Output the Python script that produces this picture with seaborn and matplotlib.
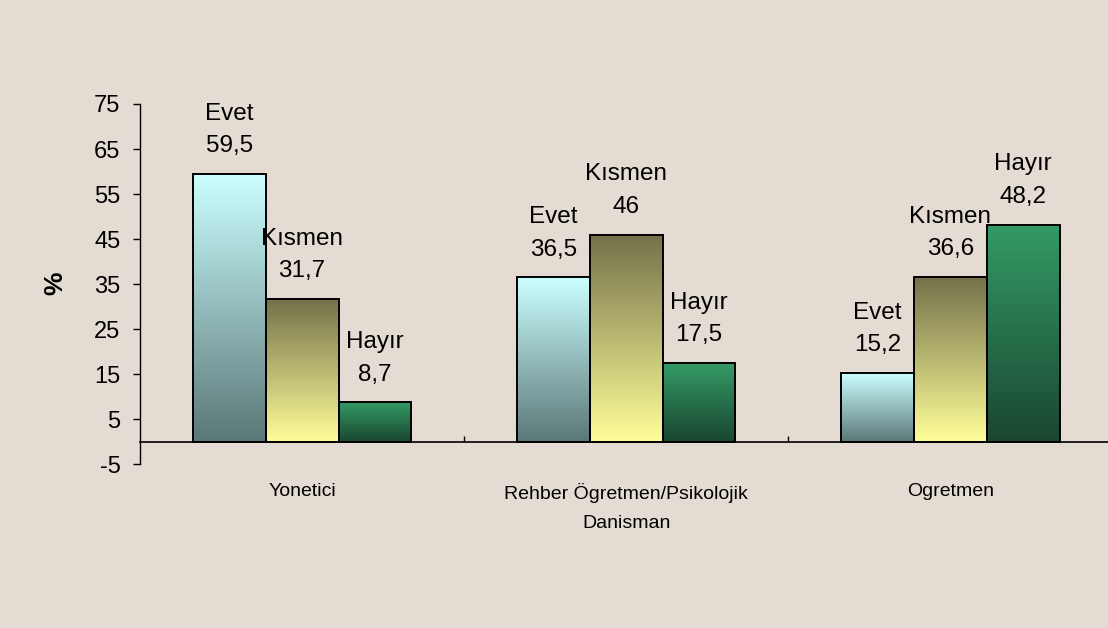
import numpy as np
import pandas as pd
import seaborn as sns
import matplotlib.pyplot as plt
from matplotlib.colors import LinearSegmentedColormap

# data
groups = ["Yonetici", "Rehber Ögretmen/Psikolojik\nDanisman", "Ogretmen"]
answers = ["Evet", "Kısmen", "Hayır"]
evet = [59.5, 36.5, 15.2]
kismen = [31.7, 46, 36.6]
hayir = [8.7, 17.5, 48.2]
yticks = [-5, 5, 15, 25, 35, 45, 55, 65, 75]

# gradient colours per answer (bottom, top)
grad = {
    "Evet": ("#5b7777", "#ccffff"),
    "Kısmen": ("#ffff99", "#74714a"),
    "Hayır": ("#1a4630", "#349a66"),
}

df = pd.DataFrame({
    "group": groups * 3,
    "answer": [a for a in answers for _ in groups],
    "value": evet + kismen + hayir,
})

sns.set_style("white")
plt.rcParams["font.family"] = ["Liberation Sans", "DejaVu Sans"]
plt.rcParams["axes.unicode_minus"] = False
plt.rcParams["text.color"] = "black"
plt.rcParams["xtick.color"] = "black"
plt.rcParams["ytick.color"] = "black"
plt.rcParams["axes.edgecolor"] = "black"

bg = "#e4dcd2"
fig = plt.figure(figsize=(11.08, 6.28), dpi=100, facecolor=bg)
ax = fig.add_axes([0.1264, 0.2611, 0.8774, 0.5733])
ax.set_facecolor("none")

sns.barplot(data=df, x="group", y="value", hue="answer", order=groups,
            hue_order=answers, width=0.675, gap=0, legend=False,
            edgecolor="black", linewidth=1.4, ax=ax)

# gradient fills, clipped to each bar
ramp = np.linspace(0, 1, 256).reshape(-1, 1)
for ans, cont in zip(answers, ax.containers):
    cmap = LinearSegmentedColormap.from_list(ans, list(grad[ans]))
    for bar, val in zip(cont, df[df.answer == ans]["value"]):
        x0, y0 = bar.get_x(), bar.get_y()
        w, h = bar.get_width(), bar.get_height()
        im = ax.imshow(ramp, cmap=cmap, origin="lower", aspect="auto",
                       extent=[x0, x0 + w, y0, y0 + h], zorder=bar.get_zorder() - 0.1)
        im.set_clip_path(bar)
        bar.set_facecolor("none")
        lab = f"{val:g}".replace(".", ",")
        ax.annotate(f"{ans}\n{lab}", (x0 + w / 2, y0 + h), xytext=(0, 12),
                    textcoords="offset points", ha="center", va="bottom",
                    fontsize=17.5, linespacing=1.62, zorder=5)

ax.set_xlim(-0.5, 2.5)
ax.set_ylim(-5, 75)
ax.set_yticks(yticks)
ax.tick_params(axis="y", labelsize=17, length=5, width=1, pad=9, left=True)
ax.set_ylabel("")
ax.set_xlabel("")

# category axis sits on the zero line
ax.spines["bottom"].set_position(("data", 0))
ax.spines["bottom"].set_linewidth(1.2)
ax.spines["left"].set_linewidth(1)
ax.spines["top"].set_visible(False)
ax.spines["right"].set_visible(False)
ax.set_xticks([0.5, 1.5], minor=True)
ax.tick_params(axis="x", which="both", direction="in", length=4, width=1,
               bottom=True, labelsize=14, pad=30)
for t in ax.get_xticklabels():
    t.set_linespacing(1.9)

fig.text(55 / 1108, 1 - 283 / 628, "%", rotation=90, fontsize=19,
         fontweight="bold", ha="center", va="center")

fig.savefig("out.png", dpi=100, facecolor=bg)
